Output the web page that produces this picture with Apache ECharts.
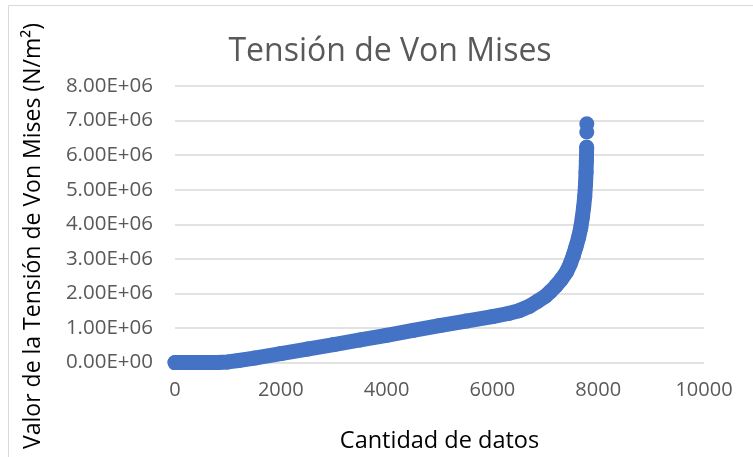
<!DOCTYPE html>
<html>
<head>
<meta charset="utf-8">
<script src="https://cdn.jsdelivr.net/npm/echarts@6/dist/echarts.min.js"></script>
<style>
  html, body { margin: 0; padding: 0; background: #fff; }
  #chart { width: 753px; height: 457px; }
</style>
</head>
<body>
<div id="chart"></div>
<script>
// Sorted Von Mises stress values against data count
const countValues = [0, 300, 600, 800, 1000, 1200, 1500, 2000, 2500, 3000, 3500, 4000, 4500, 5000, 5500, 6000, 6300, 6500, 6700, 6850, 7000, 7100, 7200, 7300, 7400, 7470, 7530, 7580, 7630, 7670, 7700, 7725, 7745, 7760, 7770, 7777, 7782];
const stressValues = [0, 0, 0, 0, 20000, 60000, 130000, 260000, 390000, 520000, 655000, 790000, 930000, 1070000, 1200000, 1330000, 1420000, 1500000, 1630000, 1770000, 1920000, 2060000, 2220000, 2400000, 2620000, 2850000, 3100000, 3350000, 3620000, 3900000, 4200000, 4500000, 4800000, 5150000, 5500000, 5850000, 6230000];
// Highest readings, plotted as separate points
const peakCounts = [7784, 7785];
const peakStress = [6670000, 6910000];

const xTicks = { min: 0, max: 10000, interval: 2000 };
const yTicks = { min: 0, max: 8000000, interval: 1000000 };

const titleText = 'Tensión de Von Mises';
const xName = 'Cantidad de datos';
const yName = 'Valor de la Tensión de Von Mises (N/m²)';

const mainPoints = countValues.map((c, i) => [c, stressValues[i]]);
const peakPoints = peakCounts.map((c, i) => [c, peakStress[i]]);

function sciLabel(v) {
  const parts = Number(v).toExponential(2).split('e');
  const sign = parts[1][0];
  const exp = parts[1].slice(1).padStart(2, '0');
  return parts[0] + 'E' + sign + exp;
}

const font = '"Open Sans", sans-serif';
const grey = '#595959';
const blue = '#4472C4';

const chart = echarts.init(document.getElementById('chart'), null, { renderer: 'canvas' });
chart.setOption({
  animation: false,
  backgroundColor: '#ffffff',
  graphic: [{
    type: 'rect',
    shape: { x: 8.5, y: 5.5, width: 760, height: 470 },
    style: { fill: 'none', stroke: '#d9d9d9', lineWidth: 1 },
    silent: true
  }, {
    // vertical axis title, centred slightly below the plot's middle
    type: 'text',
    x: 33,
    y: 236,
    rotation: Math.PI / 2,
    style: {
      text: yName,
      fontFamily: font,
      fontSize: 23,
      fill: '#000000',
      align: 'center',
      verticalAlign: 'middle'
    },
    silent: true
  }],
  title: {
    text: titleText,
    left: 385,
    top: 31,
    textAlign: 'center',
    textStyle: { fontFamily: font, fontSize: 32, fontWeight: 'normal', color: grey }
  },
  grid: { left: 175, right: 49, top: 86, bottom: 94.4, containLabel: false, outerBoundsMode: 'none' },
  xAxis: {
    type: 'value',
    min: xTicks.min, max: xTicks.max, interval: xTicks.interval,
    name: xName,
    nameLocation: 'middle',
    nameGap: 67,
    nameTextStyle: { fontFamily: font, fontSize: 23.5, color: '#000000' },
    axisLine: { show: false },
    axisTick: { show: false },
    splitLine: { show: false },
    axisLabel: { fontFamily: font, fontSize: 20, color: grey, margin: 18, formatter: v => String(v) }
  },
  yAxis: {
    type: 'value',
    min: yTicks.min, max: yTicks.max, interval: yTicks.interval,
    axisLine: { show: false },
    axisTick: { show: false },
    splitLine: { show: true, lineStyle: { color: '#d9d9d9', width: 1.5 } },
    axisLabel: { fontFamily: font, fontSize: 20.5, color: grey, margin: 22, formatter: sciLabel }
  },
  series: [{
    type: 'line',
    data: mainPoints,
    symbol: 'circle',
    symbolSize: 15,
    showSymbol: true,
    itemStyle: { color: blue, opacity: 1 },
    lineStyle: { color: blue, width: 15, cap: 'round', join: 'round' },
    silent: true
  }, {
    type: 'scatter',
    data: peakPoints,
    symbol: 'circle',
    symbolSize: 15,
    itemStyle: { color: blue, opacity: 1 },
    silent: true
  }]
});
</script>
</body>
</html>
